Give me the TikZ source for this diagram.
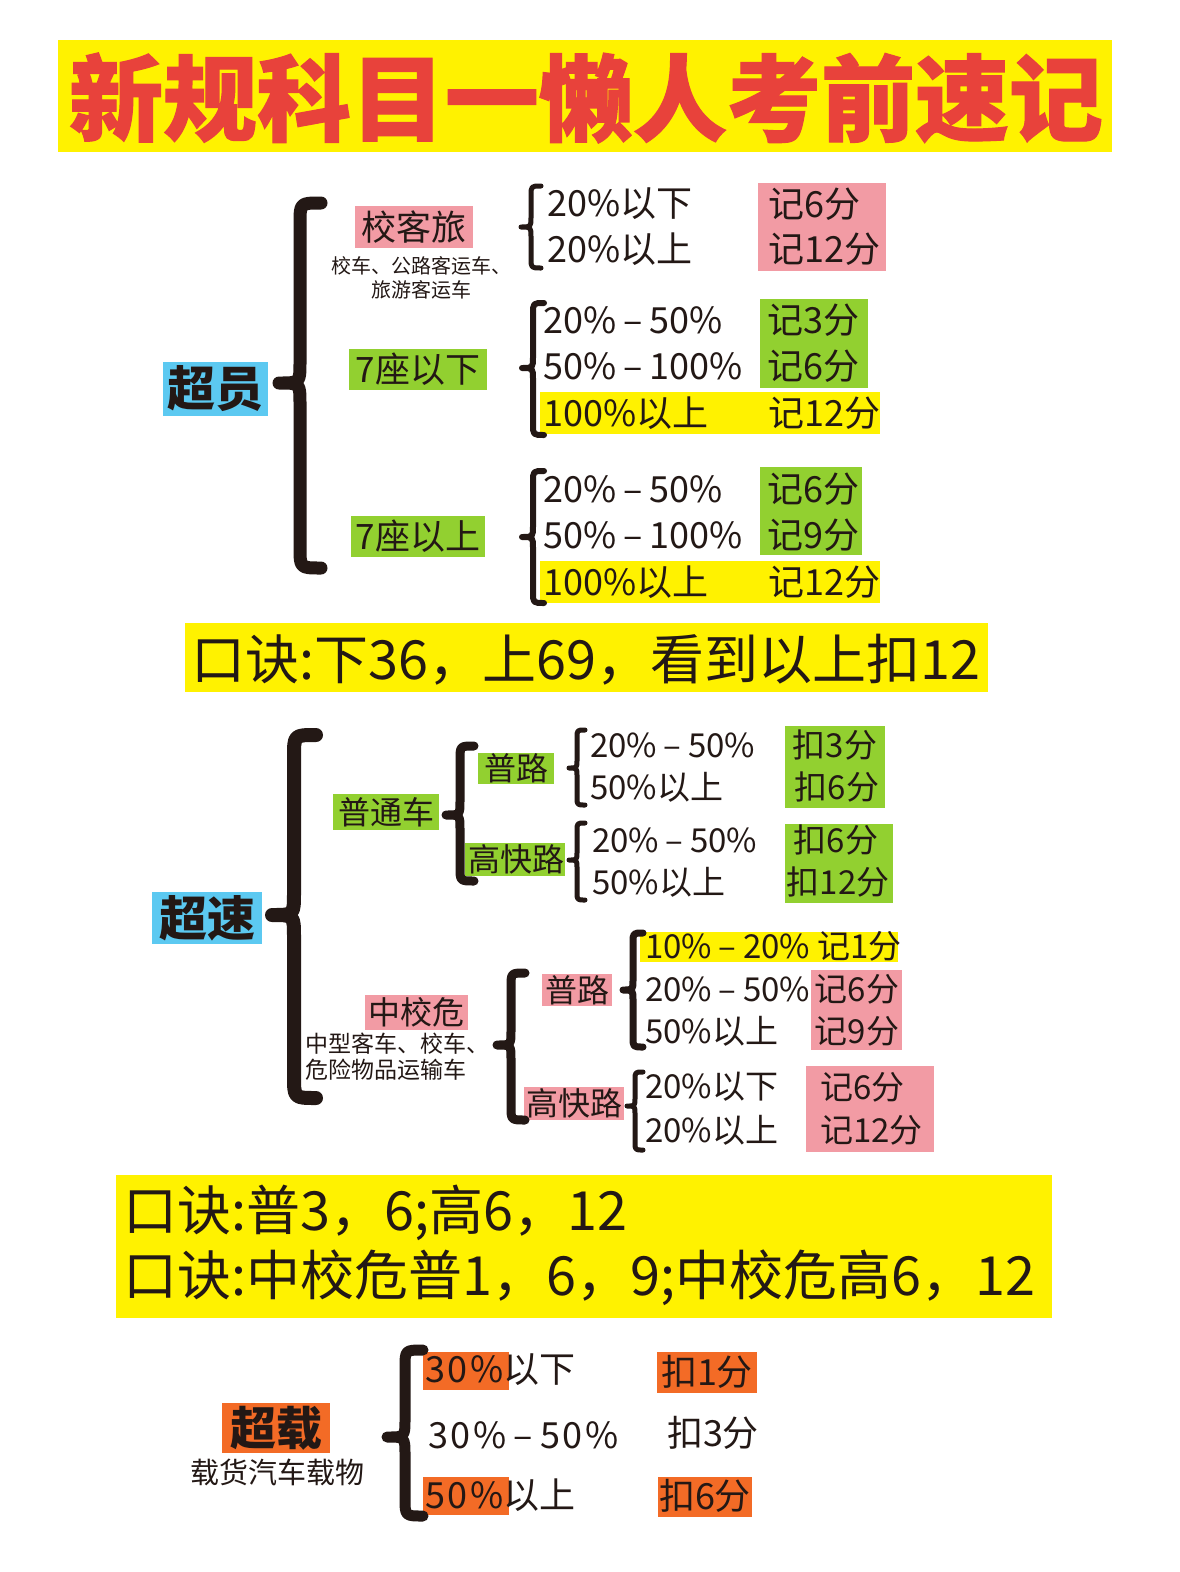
\documentclass[tikz,border=0pt]{standalone}
\usepackage{fontspec}
\newfontfamily\cjk{Noto Sans CJK SC}
\newfontfamily\cjkt{Noto Sans CJK SC}[BoldFeatures={FakeBold=1.2}]
\definecolor{ylw}{HTML}{FFF200}
\definecolor{redt}{HTML}{E8423B}
\definecolor{pnk}{HTML}{F29BA4}
\definecolor{grn}{HTML}{92D030}
\definecolor{blu}{HTML}{5CC9F1}
\definecolor{org}{HTML}{F36B26}
\definecolor{ink}{HTML}{231815}
\newcommand{\dsh}{\kern0.2em–\kern0.2em}
\newcommand{\wideltr}[1]{{\addfontfeatures{LetterSpace=7}#1}}
\newcommand{\cbr}[6]{% x, ytop, ymid, ybot, hook, linewidth
\draw[ink,line width=#6,line cap=round,line join=round]
 ({#1+#5},#2) .. controls (#1,#2) .. (#1,{#2+#5}) -- (#1,{#3-#5})
 .. controls (#1,#3) .. ({#1-#5},#3) .. controls (#1,#3) .. (#1,{#3+#5})
 -- (#1,{#4-#5}) .. controls (#1,#4) .. ({#1+#5},#4);}
\tikzset{
 t/.style={inner sep=0pt,text=ink,font=\cjk\fontsize{#1}{#1}\selectfont},
 tw/.style={t=#1,anchor=west},
 tb/.style={inner sep=0pt,text=ink,font=\cjk\bfseries\fontsize{#1}{#1}\selectfont},
}
\begin{document}
\begin{tikzpicture}[x=1pt,y=-1pt]
\useasboundingbox[fill=white] (0,0) rectangle (1179,1572);
% ---------- title
\fill[ylw] (58,40) rectangle (1112,152);
\node[inner sep=0pt,text=redt,font=\cjkt\bfseries\fontsize{94}{94}\selectfont] (title) at (586,98) {新规科目一懒人考前速记};
% ---------- section 1 boxes
\fill[blu] (163,362) rectangle (268,416);
\fill[pnk] (355,206) rectangle (473,248);
\fill[pnk] (758,183) rectangle (886,271);
\fill[grn] (349,349) rectangle (487,390);
\fill[grn] (760,299) rectangle (868,388);
\fill[ylw] (540,392) rectangle (880,434);
\fill[grn] (351,516) rectangle (485,557);
\fill[grn] (760,467) rectangle (862,555);
\fill[ylw] (540,561) rectangle (880,603);
% braces
\cbr{300}{203}{383}{568}{21}{13}
\cbr{531}{186}{227}{268}{10}{5}
\cbr{533}{303}{368}{435}{11}{6}
\cbr{533}{471}{537}{603}{11}{6}
% texts
\node[tb=48] (cy) at (215.5,389) {超员};
\node[t=35] (xkl) at (414,227) {校客旅};
\node[t=20] (xkl1) at (421,266) {校车、公路客运车、};
\node[t=20] (xkl2) at (421,290) {旅游客运车};
\node[tw=36] (a1) at (547,204) {20\%以下};
\node[tw=36] (a2) at (547,249) {20\%以上};
\node[tw=36] (a3) at (768,204) {记6分};
\node[tw=36] (a4) at (768,249) {记12分};
\node[t=35] (q7x) at (418,369.5) {7座以下};
\node[tw=36] (b1) at (543,320) {20\%\dsh50\%};
\node[tw=36] (b2) at (543,366) {50\%\dsh100\%};
\node[tw=36] (b3) at (543,413) {100\%以上};
\node[tw=36] (b4) at (767,320) {记3分};
\node[tw=36] (b5) at (767,366) {记6分};
\node[tw=36] (b6) at (768,413) {记12分};
\node[t=35] (q7s) at (418,536.5) {7座以上};
\node[tw=36] (c1) at (543,489) {20\%\dsh50\%};
\node[tw=36] (c2) at (543,535) {50\%\dsh100\%};
\node[tw=36] (c3) at (543,582) {100\%以上};
\node[tw=36] (c4) at (767,489) {记6分};
\node[tw=36] (c5) at (767,535) {记9分};
\node[tw=36] (c6) at (768,582) {记12分};
% ---------- mnemonic 1
\fill[ylw] (185,623) rectangle (988,692);
\node[tw=54] (k1) at (191,660) {口诀:下36，上69，看到以上扣12};
% ---------- section 2
\fill[blu] (152,892) rectangle (262,944);
\fill[grn] (333,794) rectangle (439,830);
\fill[grn] (478,753) rectangle (554,784);
\fill[grn] (465,843) rectangle (565,876);
\fill[grn] (785,726) rectangle (885,808);
\fill[grn] (785,824) rectangle (893,903);
\fill[pnk] (365,995) rectangle (468,1030);
\fill[pnk] (542,974) rectangle (612,1006);
\fill[pnk] (524,1087) rectangle (624,1120);
\fill[ylw] (640,932) rectangle (898,962);
\fill[pnk] (811,970) rectangle (902,1050);
\fill[pnk] (806,1066) rectangle (934,1152);
\cbr{294}{735}{915}{1098}{22}{14}
\cbr{460}{746}{815}{881}{14}{9}
\cbr{577}{730}{768}{805}{8}{5}
\cbr{577}{823}{860}{900}{8}{5}
\cbr{511}{973}{1045}{1120}{14}{9}
\cbr{633}{933}{990}{1047}{10}{7}
\cbr{635}{1072}{1106}{1150}{8}{5}
\node[tb=48] (cs) at (207,918) {超速};
\node[t=32] (ptc) at (386,812) {普通车};
\node[t=32] (pl1) at (516,768.5) {普路};
\node[t=32] (gkl1) at (516,859.5) {高快路};
\node[tw=33] (d1) at (590,745) {20\%\dsh50\%};
\node[tw=33] (d2) at (590,787) {50\%以上};
\node[t=33] (d3) at (835,745) {扣3分};
\node[t=33] (d4) at (837,787) {扣6分};
\node[tw=33] (e1) at (592,840) {20\%\dsh50\%};
\node[tw=33] (e2) at (592,882) {50\%以上};
\node[t=33] (e3) at (836,840) {扣6分};
\node[t=33] (e4) at (838,882) {扣12分};
\node[t=32] (zxw) at (416.5,1012.5) {中校危};
\node[tw=23] (zxw1) at (305,1044) {中型客车、校车、};
\node[tw=23] (zxw2) at (305,1070) {危险物品运输车};
\node[t=32] (pl2) at (577,990) {普路};
\node[t=32] (gkl2) at (574,1103.5) {高快路};
\node[tw=33] (f1) at (645,946) {10\%\dsh20\% 记1分};
\node[tw=33] (f2) at (645,989) {20\%\dsh50\%};
\node[tw=33] (f3) at (645,1031) {50\%以上};
\node[t=33] (f4) at (857,989) {记6分};
\node[t=33] (f5) at (857,1031) {记9分};
\node[tw=33] (g1) at (645,1087) {20\%以下};
\node[tw=33] (g2) at (645,1130) {20\%以上};
\node[tw=33] (g3) at (820,1087) {记6分};
\node[tw=33] (g4) at (820,1130) {记12分};
% ---------- mnemonic 2
\fill[ylw] (116,1175) rectangle (1052,1318);
\node[tw=54] (k2) at (123,1213) {口诀:普3，6;高6，12};
\node[tw=54] (k3) at (123,1278) {口诀:中校危普1，6，9;中校危高6，12};
% ---------- section 3
\fill[org] (222,1403) rectangle (330,1453);
\fill[org] (423,1352) rectangle (509,1390);
\fill[org] (423,1477) rectangle (509,1515);
\fill[org] (657,1352) rectangle (757,1393);
\fill[org] (658,1477) rectangle (752,1517);
\cbr{405}{1350}{1437}{1516}{18}{11}
\node[tb=46] (cz) at (276,1428) {超载};
\node[t=29] (cz1) at (277,1472) {载货汽车载物};
\node[tw=36] (h1) at (425,1370) {\wideltr{30\%}以下};
\node[tw=36] (h2) at (428,1435) {\wideltr{30\%\dsh50\%}};
\node[tw=36] (h3) at (425,1495) {\wideltr{50\%}以上};
\node[t=36] (h4) at (707,1372) {扣1分};
\node[t=36] (h5) at (713,1433) {扣3分};
\node[t=36] (h6) at (705,1496) {扣6分};
\end{tikzpicture}
\end{document}
